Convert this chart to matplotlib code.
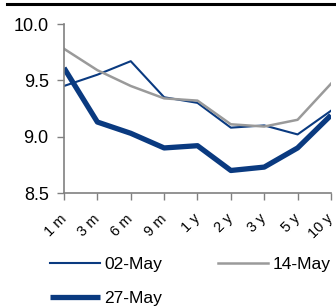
import matplotlib.pyplot as plt
from matplotlib.lines import Line2D

plt.rcParams['font.family'] = ['Liberation Sans', 'DejaVu Sans']

tenors = ['1 m', '3 m', '6 m', '9 m', '1 y', '2 y', '3 y', '5 y', '10 y']
may02 = [9.45, 9.55, 9.67, 9.35, 9.30, 9.08, 9.10, 9.02, 9.23]
may14 = [9.78, 9.59, 9.45, 9.34, 9.32, 9.11, 9.09, 9.15, 9.47]
may27 = [9.61, 9.13, 9.03, 8.90, 8.92, 8.70, 8.73, 8.90, 9.19]

blue = '#0a3a80'
grey = '#9a9a9a'

fig = plt.figure(figsize=(3.36, 3.07), dpi=100)
ax = fig.add_axes([0.1905, 0.3713, 0.7945, 0.5505])

x = range(len(tenors))
l02, = ax.plot(x, may02, color=blue, lw=1.5, label='02-May')
l14, = ax.plot(x, may14, color=grey, lw=1.8, label='14-May')
l27, = ax.plot(x, may27, color=blue, lw=3.8, label='27-May', solid_capstyle='butt')

ax.set_xlim(0, len(tenors) - 1)
ax.set_ylim(8.5, 10.0)
ax.set_yticks([8.5, 9.0, 9.5, 10.0])
ax.set_yticklabels(['8.5', '9.0', '9.5', '10.0'], fontsize=13)
ax.set_xticks(list(x))
ax.set_xticklabels(tenors, fontsize=10.5, rotation=45, ha='right', va='center',
                   rotation_mode='anchor')
ax.tick_params(axis='x', pad=12, length=5, color='#808080', width=1)
ax.tick_params(axis='y', pad=6, length=5, color='#808080', width=1)

for s in ['top', 'right']:
    ax.spines[s].set_visible(False)
for s in ['left', 'bottom']:
    ax.spines[s].set_color('#808080')
    ax.spines[s].set_linewidth(1.2)

# black rule at the top
fig.add_artist(Line2D([7 / 336, 1], [1 - 3.5 / 307, 1 - 3.5 / 307],
                      color='black', lw=2.2, transform=fig.transFigure))

fig.legend([l02, l27, l14], ['02-May', '27-May', '14-May'],
           loc='upper left', bbox_to_anchor=(41 / 336, 1 - 248 / 307), ncol=2,
           frameon=False, fontsize=12.5, borderpad=0, handlelength=2.9,
           handletextpad=0.25, columnspacing=3.2, labelspacing=1.12)

fig.savefig('out.png', dpi=100)
